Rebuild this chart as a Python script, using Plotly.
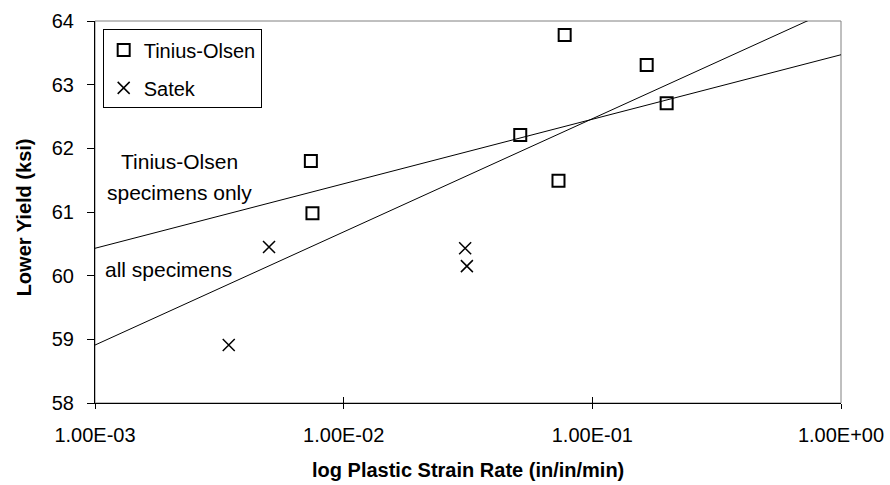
import plotly.graph_objects as go

# Data
to_rate = [7.38e-3, 7.49e-3, 0.0513, 0.0731, 0.0774, 0.1654, 0.199]
to_yield = [61.80, 60.98, 62.21, 61.49, 63.78, 63.31, 62.71]
satek_rate = [3.45e-3, 5.01e-3, 0.0308, 0.0313]
satek_yield = [58.91, 60.45, 60.43, 60.15]

# Trend lines (endpoints)
to_fit_rate = [1e-3, 1e0]
to_fit_yield = [60.43, 63.47]
all_fit_rate = [1e-3, 0.8]
all_fit_yield = [58.91, 64.07]

x_tickvals = [1e-3, 1e-2, 1e-1, 1e0]
x_ticktext = ["1.00E-03", "1.00E-02", "1.00E-01", "1.00E+00"]
y_tickvals = [58, 59, 60, 61, 62, 63, 64]

FONT = "Liberation Sans, Arial, sans-serif"

fig = go.Figure()

fig.add_trace(go.Scatter(x=to_fit_rate, y=to_fit_yield, mode="lines",
                         line=dict(color="black", width=1), showlegend=False,
                         hoverinfo="skip"))
fig.add_trace(go.Scatter(x=all_fit_rate, y=all_fit_yield, mode="lines",
                         line=dict(color="black", width=1), showlegend=False,
                         hoverinfo="skip"))
fig.add_trace(go.Scatter(x=to_rate, y=to_yield, mode="markers", name="Tinius-Olsen",
                         legendgroup="a",
                         marker=dict(symbol="square-open", size=12, color="black",
                                     line=dict(width=2, color="black"))))
fig.add_trace(go.Scatter(x=satek_rate, y=satek_yield, mode="markers", name="Satek",
                         legendgroup="b",
                         marker=dict(symbol="x-thin", size=12, color="black",
                                     line=dict(width=1.5, color="black"))))
# empty trace to activate overlay axis for crossing ticks
fig.add_trace(go.Scatter(x=[], y=[], xaxis="x2", yaxis="y", showlegend=False,
                         hoverinfo="skip"))

fig.update_layout(
    width=890, height=485,
    margin=dict(l=95, r=49, t=21, b=82),
    paper_bgcolor="white", plot_bgcolor="white",
    font=dict(family=FONT, size=20, color="black"),
    xaxis=dict(type="log", range=[-3, 0], tickvals=x_tickvals, ticktext=x_ticktext,
               showgrid=False, zeroline=False, showline=True, linecolor="black",
               linewidth=1, ticks="outside", ticklen=5, tickcolor="black",
               tickfont=dict(size=20), ticklabelstandoff=9, automargin=False),
    xaxis2=dict(type="log", range=[-3, 0], tickvals=x_tickvals, overlaying="x",
                anchor="y", side="bottom", showticklabels=False, showgrid=False,
                zeroline=False, showline=False, ticks="inside", ticklen=6,
                tickcolor="black", automargin=False),
    yaxis=dict(range=[58, 64], tickvals=y_tickvals, showgrid=False, zeroline=False,
               showline=True, linecolor="black", linewidth=1, ticks="outside",
               ticklen=7, tickcolor="black", tickfont=dict(size=20),
               ticklabelstandoff=9, automargin=False),
    legend=dict(x=0.0103, y=0.978, xanchor="left", yanchor="top",
                bgcolor="white", bordercolor="black", borderwidth=1,
                font=dict(size=20), traceorder="grouped", tracegroupgap=9,
                itemwidth=30),
    shapes=[dict(type="rect", xref="paper", yref="paper", x0=0, x1=1, y0=0, y1=1,
                 line=dict(color="#808080", width=1), layer="below")],
    annotations=[
        dict(text="<b>log Plastic Strain Rate (in/in/min)</b>", xref="paper", yref="paper",
             x=0.5, y=0, yshift=-54, xanchor="center", yanchor="top", showarrow=False,
             font=dict(size=20)),
        dict(text="<b>Lower Yield (ksi)</b>", xref="paper", yref="paper",
             x=0, xshift=-71, y=0.486, textangle=-90, xanchor="center", yanchor="middle",
             showarrow=False, font=dict(size=20)),
        dict(text="Tinius-Olsen", x=-2.662, y=61.79, xanchor="center", yanchor="middle",
             showarrow=False, font=dict(size=21)),
        dict(text="specimens only", x=-2.662, y=61.30, xanchor="center", yanchor="middle",
             showarrow=False, font=dict(size=21)),
        dict(text="all specimens", x=-2.967, y=60.09, xanchor="left", yanchor="middle",
             showarrow=False, font=dict(size=21)),
    ],
)

fig.write_html("out.html",
               config={"displayModeBar": False},
               post_script="document.body.style.margin='0';"
                           "document.body.style.overflow='hidden';")
